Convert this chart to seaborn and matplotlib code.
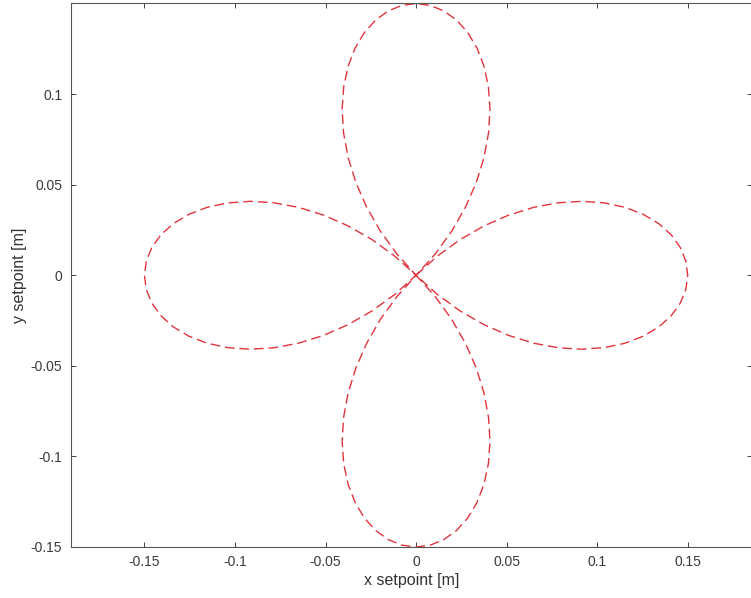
import matplotlib
matplotlib.use("Agg")
import matplotlib.pyplot as plt
import seaborn as sns
import pandas as pd

# Right petal
right_x = [0, .01165, .02424, .03750, .05117, .06495, .07856, .09169, .10407, .11541, .12548, .13404, .14090, .14592, .14897, .15000,
           .14897, .14592, .14090, .13404, .12548, .11541, .10407, .09169, .07856, .06495, .05117, .03750, .02424, .01165, 0]
right_y = [0, .01049, .01963, .02725, .03323, .03750, .04003, .04082, .03995, .03750, .03362, .02849, .02232, .01534, .00781, 0,
           -.00781, -.01534, -.02232, -.02849, -.03362, -.03750, -.03995, -.04082, -.04003, -.03750, -.03323, -.02725, -.01963, -.01049, 0]
# Bottom petal
bottom_x = [0, .01049, .01963, .02725, .03323, .03750, .04003, .04082, .03995, .03750, .03362, .02849, .02232, .01534, .00781, 0,
            -.00781, -.01534, -.02232, -.02849, -.03362, -.03750, -.03995, -.04082, -.04003, -.03750, -.03323, -.02725, -.01963, -.01049, 0]
bottom_y = [0, -.01165, -.02424, -.03750, -.05117, -.06495, -.07856, -.09169, -.10407, -.11541, -.12548, -.13404, -.14090, -.14592, -.14897, -.15000,
            -.14897, -.14592, -.14090, -.13404, -.12548, -.11541, -.10407, -.09169, -.07856, -.06495, -.05117, -.03750, -.02424, -.01165, 0]
# Left petal
left_x = [0, -.01165, -.02424, -.03750, -.05117, -.06495, -.07856, -.09169, -.10407, -.11541, -.12548, -.13404, -.14090, -.14592, -.14897, -.15000,
          -.14897, -.14592, -.14090, -.13404, -.12548, -.11541, -.10407, -.09169, -.07856, -.06495, -.05117, -.03750, -.02424, -.01165, 0]
left_y = [0, -.01049, -.01963, -.02725, -.03323, -.03750, -.04003, -.04082, -.03995, -.03750, -.03362, -.02849, -.02232, -.01534, -.00781, 0,
          .00781, .01534, .02232, .02849, .03362, .03750, .03995, .04082, .04003, .03750, .03323, .02725, .01963, .01049, 0]
# Top petal
top_x = [0, -.01049, -.01963, -.02725, -.03323, -.03750, -.04003, -.04082, -.03995, -.03750, -.03362, -.02849, -.02232, -.01534, -.00781, 0,
         .00781, .01534, .02232, .02849, .03362, .03750, .03995, .04082, .04003, .03750, .03323, .02725, .01963, .01049, 0]
top_y = [0, .01165, .02424, .03750, .05117, .06495, .07856, .09169, .10407, .11541, .12548, .13404, .14090, .14592, .14897, .15000,
         .14897, .14592, .14090, .13404, .12548, .11541, .10407, .09169, .07856, .06495, .05117, .03750, .02424, .01165, 0]

x_ticks = [-0.15, -0.1, -0.05, 0, 0.05, 0.1, 0.15]
x_tick_labels = ["-0.15", "-0.1", "-0.05", "0", "0.05", "0.1", "0.15"]
y_ticks = [-0.15, -0.1, -0.05, 0, 0.05, 0.1]
y_tick_labels = ["-0.15", "-0.1", "-0.05", "0", "0.05", "0.1"]

df = pd.DataFrame({
    "x": right_x + bottom_x + left_x + top_x,
    "y": right_y + bottom_y + left_y + top_y,
})

sns.set_style("white")
plt.rcParams["font.family"] = ["Liberation Sans", "DejaVu Sans"]

fig = plt.figure(figsize=(7.51, 5.98), dpi=100)
ax = fig.add_axes([70.7 / 751, 51 / 598, (752 - 70.7) / 751, 544 / 598])

sns.lineplot(data=df, x="x", y="y", sort=False, estimator=None, ax=ax,
             color="#e0353d", linewidth=1.0)
for ln in ax.get_lines():
    ln.set_dashes([7, 3.5])

ax.set_xlim(-0.1907, 0.1855)
ax.set_ylim(-0.15, 0.1503)
ax.set_xticks(x_ticks)
ax.set_xticklabels(x_tick_labels)
ax.set_yticks(y_ticks)
ax.set_yticklabels(y_tick_labels)
ax.tick_params(direction="in", length=3.6, width=0.6, color="#262626",
               labelsize=10, labelcolor="#3a3a3a", top=True, right=True,
               bottom=True, left=True, pad=6)
for s in ax.spines.values():
    s.set_color("#555555")
    s.set_linewidth(0.8)
ax.set_xlabel("x setpoint [m]", fontsize=11.5, color="#333333", labelpad=3)
ax.set_ylabel("y setpoint [m]", fontsize=11.5, color="#333333", labelpad=3)

fig.savefig("out.png", dpi=100)
